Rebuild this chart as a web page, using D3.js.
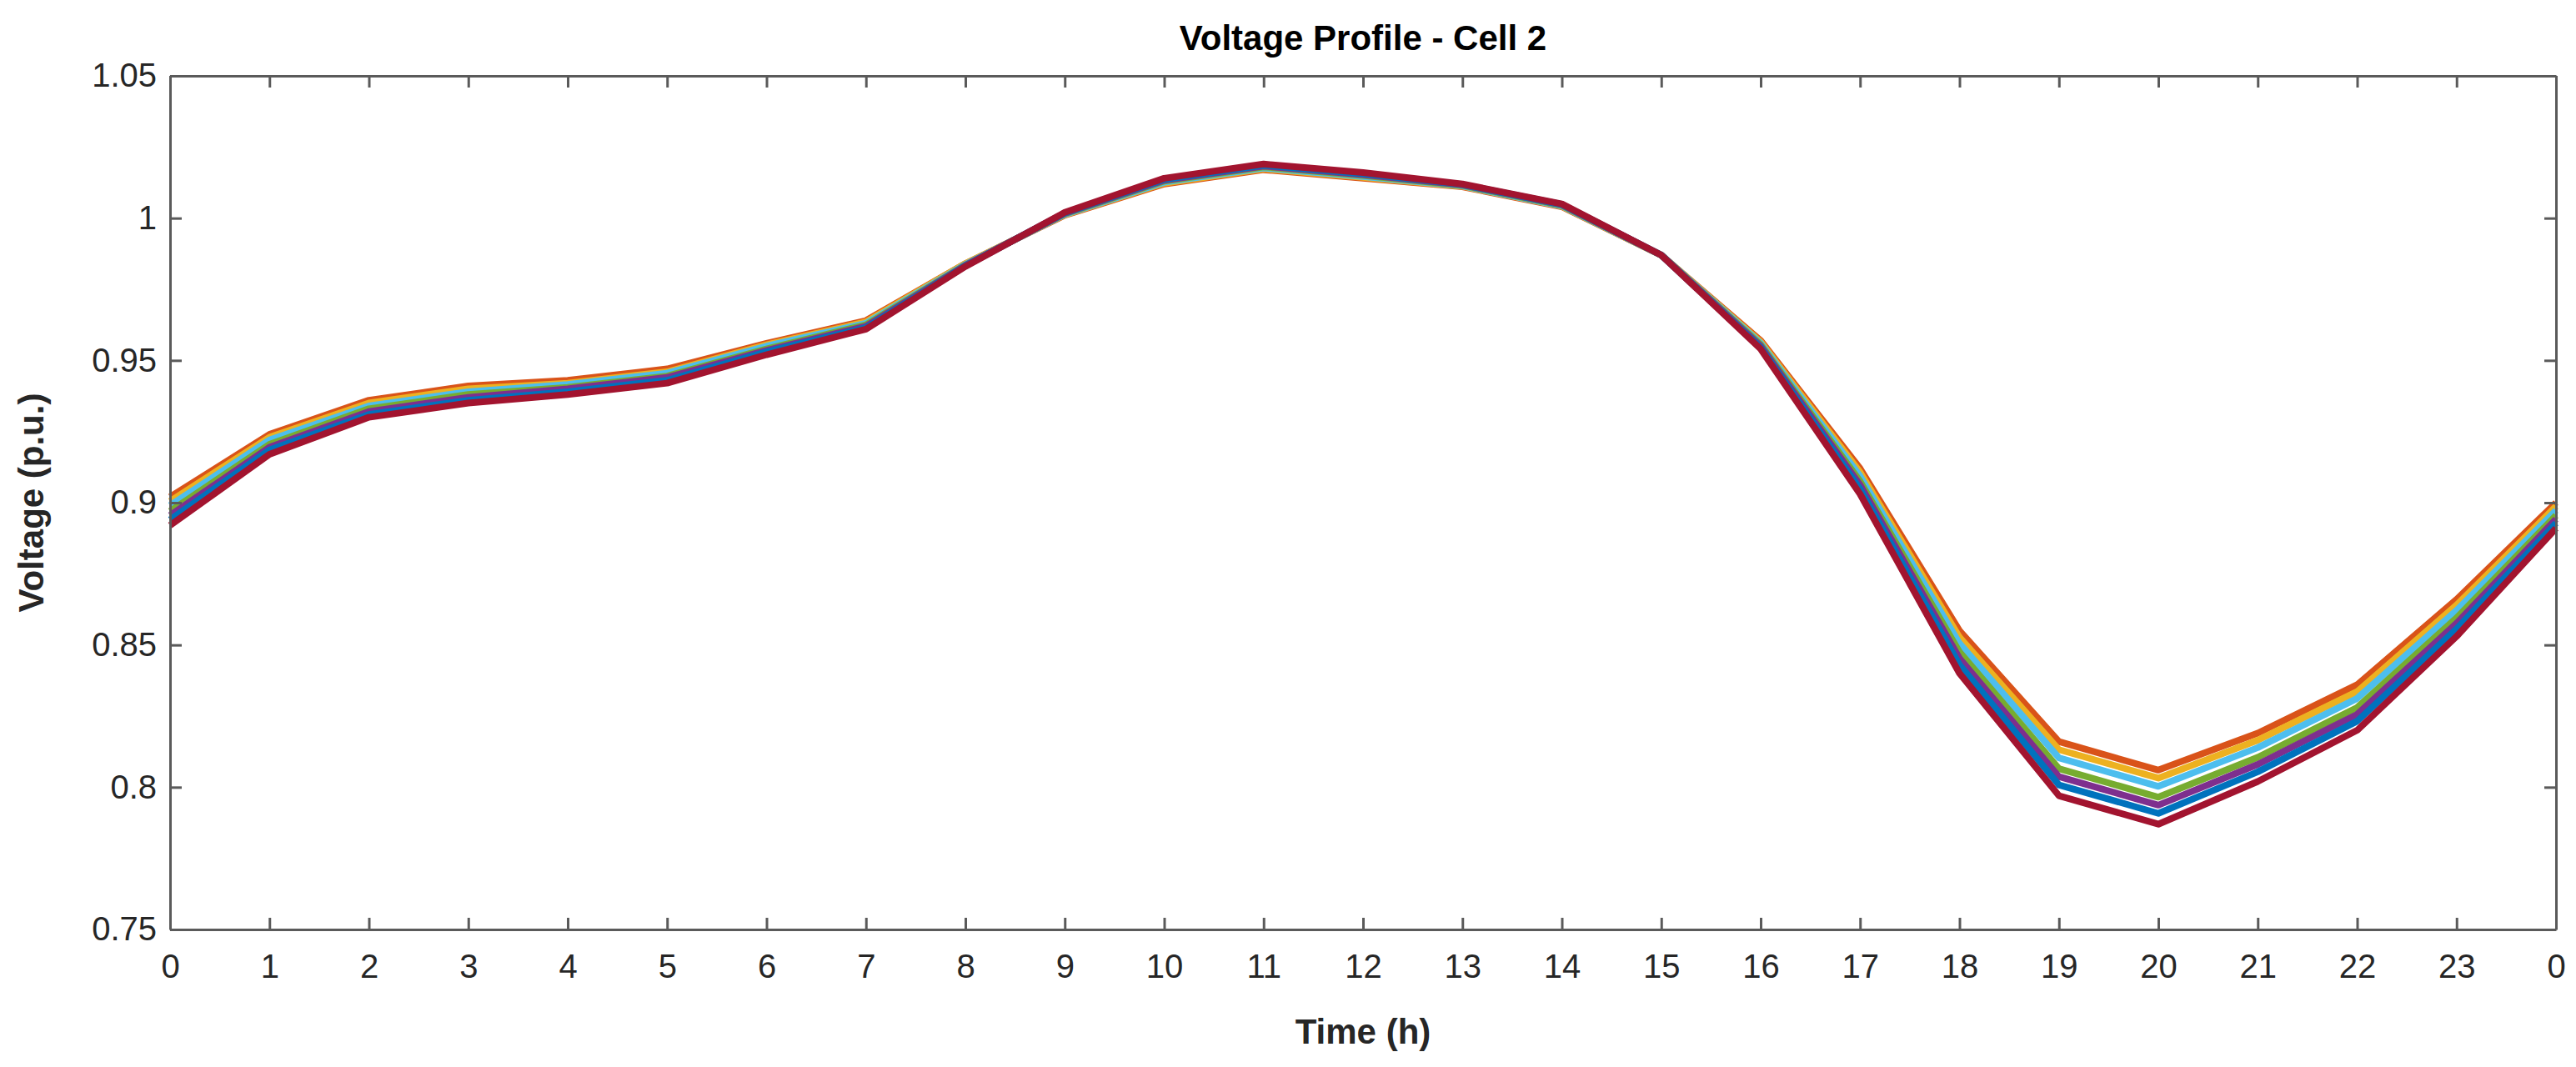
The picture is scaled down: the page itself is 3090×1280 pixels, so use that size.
<!DOCTYPE html>
<html><head><meta charset="utf-8">
<script src="https://cdn.jsdelivr.net/npm/d3@7"></script>
<style>body{margin:0;background:#fff}svg{display:block}text{font-family:"Liberation Sans",Arial,sans-serif}</style>
</head><body><svg id="c" width="3090" height="1280"></svg>
<script>
var hours = d3.range(0, 25);
var tickLabels = hours.map(function(h) { return String(h % 24); });
var yTicks = [0.75, 0.8, 0.85, 0.9, 0.95, 1, 1.05];

var seriesColors = ["#D95319", "#EDB120", "#4DBEEE", "#77AC30", "#7E2F8E", "#0072BD", "#A2142F"];
var s1 = [.902,.924,.936,.941,.943,.947,.956,.964,.984,1.001,1.012,1.017,1.014,1.011,1.004,.987,.957,.912,.855,.816,.806,.819,.836,.866,.900];
var s2 = [.9005,.923,.935,.940,.942,.946,.9555,.9635,.984,1.0012,1.0123,1.0173,1.0143,1.0112,1.0042,.987,.9565,.9107,.8527,.8132,.8032,.8165,.8336,.864,.8987];
var s3 = [.899,.922,.934,.939,.9415,.9455,.955,.963,.9837,1.0013,1.0126,1.0176,1.0146,1.0113,1.0043,.987,.956,.9093,.8505,.8103,.8003,.8139,.8312,.8621,.8973];
var s4 = [.897,.9205,.933,.938,.9405,.9445,.954,.9625,.9835,1.0015,1.013,1.018,1.015,1.0115,1.0045,.987,.9555,.9075,.8475,.8065,.7965,.8105,.828,.8595,.8955];
var s5 = [.8955,.9195,.932,.937,.940,.944,.9535,.962,.9834,1.0017,1.0133,1.0183,1.0153,1.0117,1.0047,.987,.955,.9062,.8453,.8037,.7937,.808,.8256,.8576,.8942];
var s6 = [.894,.9185,.931,.936,.939,.943,.953,.9615,.9832,1.0018,1.0136,1.0186,1.0156,1.0118,1.0048,.987,.9545,.9048,.843,.8008,.7908,.8054,.8232,.8556,.8928];
var s7 = [.892,.917,.930,.935,.938,.942,.952,.961,.983,1.002,1.014,1.019,1.016,1.012,1.005,.987,.954,.903,.840,.797,.787,.802,.820,.853,.891];
var allSeries = [s1, s2, s3, s4, s5, s6, s7];

var L = 204, R = 3066, T = 91, B = 1115;
var svg = d3.select("#c");
var x = d3.scaleLinear().domain([0, 24]).range([L, R]);
var y = d3.scaleLinear().domain([0.75, 1.05]).range([B, T]);

// lines
var line = d3.line().x(function(d, i) { return x(hours[i]); }).y(function(d) { return y(d); });
svg.append("g").selectAll("path").data(allSeries).enter().append("path")
  .attr("d", line)
  .attr("fill", "none")
  .attr("stroke", function(d, i) { return seriesColors[i]; })
  .attr("stroke-width", 8)
  .attr("stroke-linejoin", "round");

// axes (MATLAB style: inward ticks, box)
var ax = "#5a5a5a";
var xb = svg.append("g").attr("transform", "translate(0," + B + ")")
  .call(d3.axisBottom(x).tickValues(hours).tickFormat(function(d, i) { return tickLabels[i]; }).tickSizeInner(-14).tickSizeOuter(0).tickPadding(30));
var xt = svg.append("g").attr("transform", "translate(0," + T + ")")
  .call(d3.axisTop(x).tickValues(hours).tickFormat("").tickSizeInner(-14).tickSizeOuter(0));
var yl = svg.append("g").attr("transform", "translate(" + L + ",0)")
  .call(d3.axisLeft(y).tickValues(yTicks).tickFormat(d3.format("")).tickSizeInner(-14).tickSizeOuter(0).tickPadding(16));
var yr = svg.append("g").attr("transform", "translate(" + R + ",0)")
  .call(d3.axisRight(y).tickValues(yTicks).tickFormat("").tickSizeInner(-14).tickSizeOuter(0));
[xb, xt, yl, yr].forEach(function(g) {
  g.selectAll("path,line").attr("stroke", ax).attr("stroke-width", 3);
  g.selectAll("text").attr("fill", "#262626").style("font-size", "40px");
});

svg.append("text").attr("x", (L + R) / 2).attr("y", 60).attr("text-anchor", "middle")
  .style("font-size", "42px").style("font-weight", "bold").text("Voltage Profile - Cell 2");
svg.append("text").attr("x", (L + R) / 2).attr("y", 1252).attr("text-anchor", "middle")
  .style("font-size", "42px").style("font-weight", "bold").attr("fill", "#262626").text("Time (h)");
svg.append("text").attr("transform", "translate(52," + (T + B) / 2 + ") rotate(-90)").attr("text-anchor", "middle")
  .style("font-size", "42px").style("font-weight", "bold").attr("fill", "#262626").text("Voltage (p.u.)");
</script></body></html>
